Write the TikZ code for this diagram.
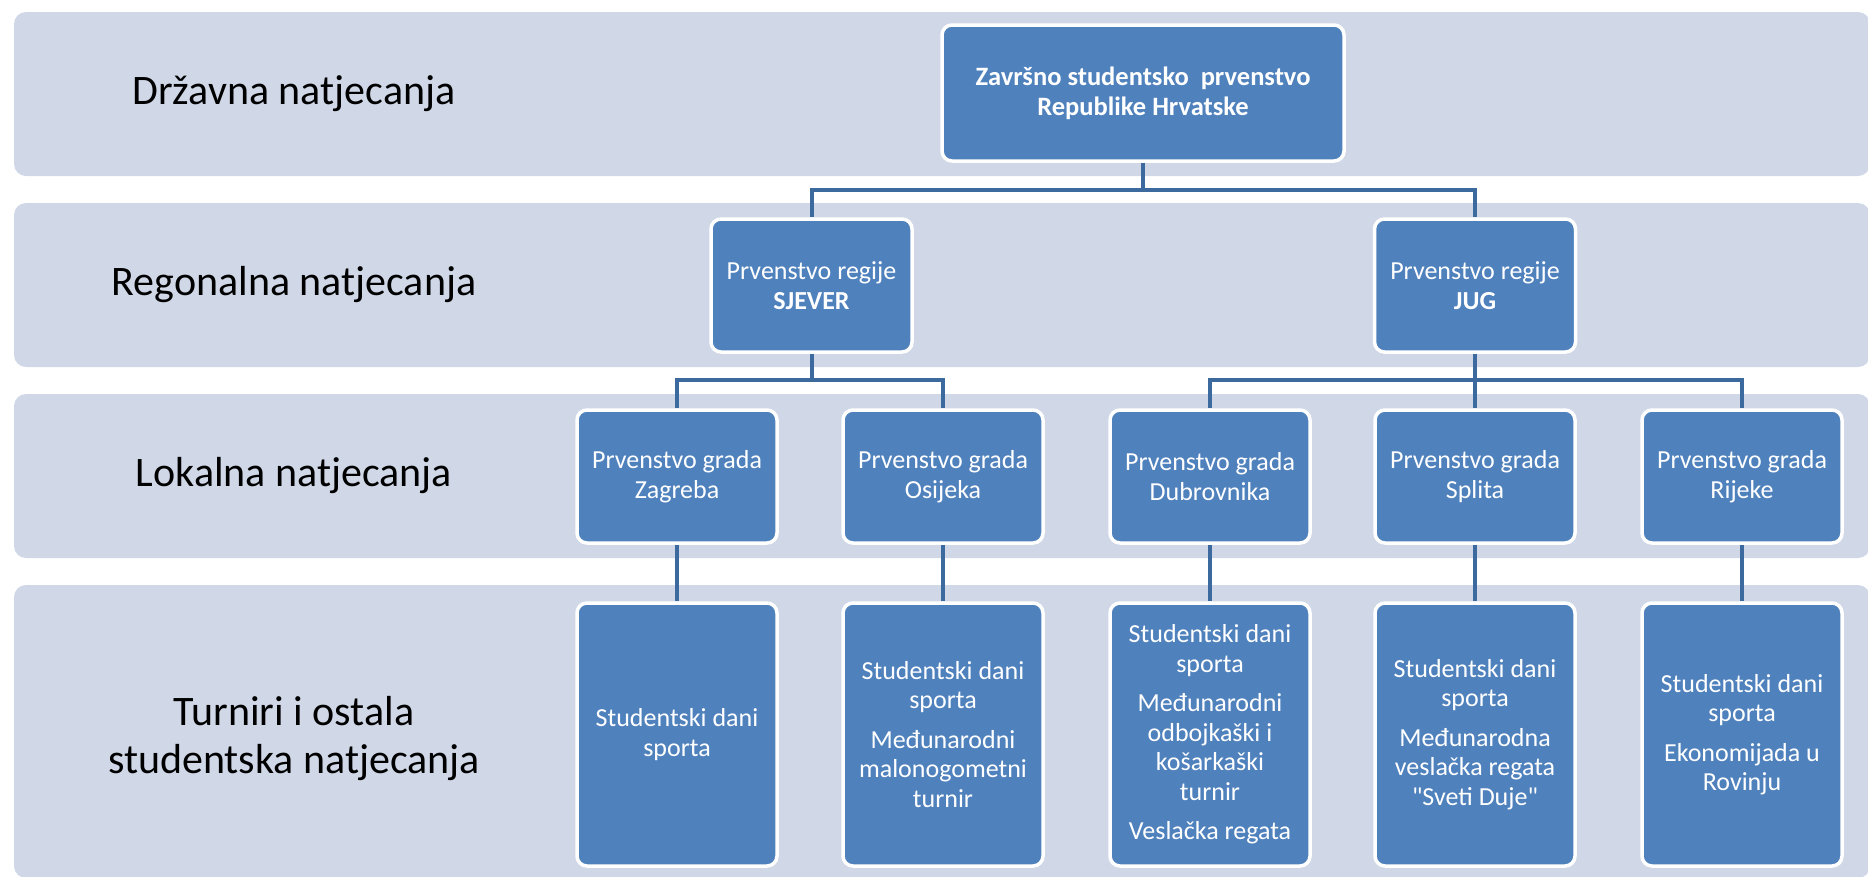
\documentclass[tikz,border=0pt]{standalone}
\usepackage{fontspec}
\setmainfont{Carlito}
\definecolor{bandc}{HTML}{D0D8E8}
\definecolor{boxc}{HTML}{4F81BD}
\definecolor{linec}{HTML}{3D6A9E}
\begin{document}
\begin{tikzpicture}[x=1pt,y=-1pt,
 band/.style={fill=bandc, rounded corners=12pt},
 box/.style={fill=boxc, draw=white, line width=3.5pt, rounded corners=10pt, text=white, align=center, inner sep=0pt},
 boxfont/.style={font=\fontsize{26}{29.5}\selectfont},
 regbox/.style={box, boxfont, minimum width=201pt, minimum height=133pt},
 locbox/.style={box, boxfont, minimum width=200pt, minimum height=133pt},
 botbox/.style={box, boxfont, minimum width=200pt, minimum height=263pt},
 conn/.style={draw=linec, line width=4pt},
 lbl/.style={align=center, font=\fontsize{42}{48}\selectfont, text=black}]
\useasboundingbox (0,0) rectangle (1868,876);
\fill[white] (0,0) rectangle (1868,876);
\clip (0,0) rectangle (1868,876);
% bands
\path[band] (14,12) rectangle (1870,176);
\path[band] (14,203) rectangle (1870,367);
\path[band] (14,394) rectangle (1870,558);
\path[band] (14,585) rectangle (1870,878);
% labels
\node[lbl] (l1) at (294,94) {Državna natjecanja};
\node[lbl] (l2) at (294,285) {Regonalna natjecanja};
\node[lbl] (l3) at (294,476) {Lokalna natjecanja};
\node[lbl] (l4) at (294,739) {Turniri i ostala\\studentska natjecanja};
% top
\node[box, font=\bfseries\fontsize{26.5}{30}\selectfont, minimum width=402pt, minimum height=136pt] (top) at (1143,93) {Završno studentsko\ \ prvenstvo\\Republike Hrvatske};
% regional
\node[regbox] (sj) at (811.5,285.5) {Prvenstvo regije\\\textbf{SJEVER}};
\node[regbox] (jug) at (1475,285.5) {Prvenstvo regije\\\textbf{JUG}};
% local
\node[locbox] (zg) at (677,476.5) {Prvenstvo grada\\Zagreba};
\node[locbox] (os) at (943,476.5) {Prvenstvo grada\\Osijeka};
\node[locbox] (du) at (1210,476.5) {Prvenstvo grada\\Dubrovnika};
\node[locbox] (st) at (1475,476.5) {Prvenstvo grada\\Splita};
\node[locbox] (ri) at (1742,476.5) {Prvenstvo grada\\Rijeke};
% bottom
\node[botbox] (zgb) at (677,734.5) {Studentski dani\\sporta};
\node[botbox] (osb) at (943,734.5) {Studentski dani\\sporta\\[10pt]Međunarodni\\malonogometni\\turnir};
\node[botbox] (dub) at (1210,734.5) {Studentski dani\\sporta\\[10pt]Međunarodni\\odbojkaški i\\košarkaški\\turnir\\[10pt]Veslačka regata};
\node[botbox] (stb) at (1475,734.5) {Studentski dani\\sporta\\[10pt]Međunarodna\\veslačka regata\\\textquotedbl Sveti Duje\textquotedbl};
\node[botbox] (rib) at (1742,734.5) {Studentski dani\\sporta\\[10pt]Ekonomijada u\\Rovinju};
% connectors
\draw[conn] (top.south) -- ++(0,27) -| (sj.north);
\draw[conn] (top.south) -- ++(0,27) -| (jug.north);
\draw[conn] (sj.south) -- ++(0,26) -| (zg.north);
\draw[conn] (sj.south) -- ++(0,26) -| (os.north);
\draw[conn] (jug.south) -- ++(0,26) -| (du.north);
\draw[conn] (jug.south) -- (st.north);
\draw[conn] (jug.south) -- ++(0,26) -| (ri.north);
\draw[conn] (zg.south) -- (zgb.north);
\draw[conn] (os.south) -- (osb.north);
\draw[conn] (du.south) -- (dub.north);
\draw[conn] (st.south) -- (stb.north);
\draw[conn] (ri.south) -- (rib.north);
\end{tikzpicture}
\end{document}
